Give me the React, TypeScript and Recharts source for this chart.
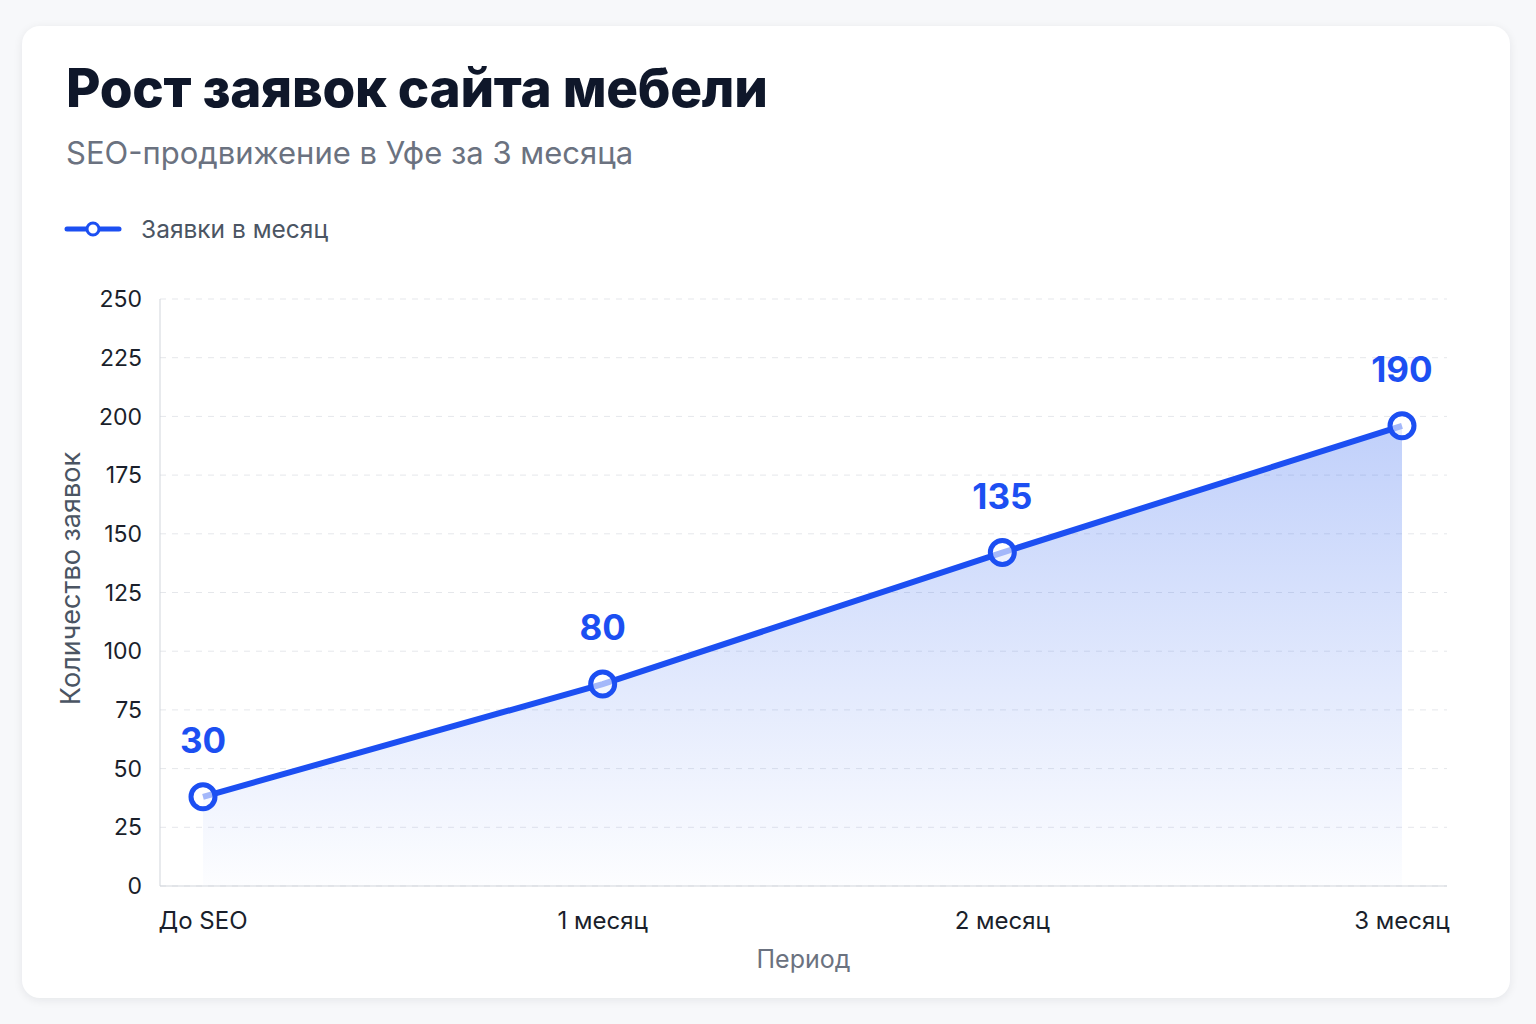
import React from "react";
import { Area, AreaChart, CartesianGrid, LabelList, XAxis, YAxis } from "recharts";

const periods = ["До SEO", "1 месяц", "2 месяц", "3 месяц"];
const requests = [38, 86, 142, 196];
const valueLabels = ["30", "80", "135", "190"];
const yTicks = [0, 25, 50, 75, 100, 125, 150, 175, 200, 225, 250];

const data = periods.map((period, i) => ({ period, requests: requests[i], label: valueLabels[i] }));

const BLUE = "#1c4ff2";
const FONT = "Inter, 'Noto Sans', sans-serif";

function PointLabel(props: any) {
  const { x, y, index } = props;
  return (
    <text x={x} y={y - 44} textAnchor="middle" fill={BLUE} fontSize={35} fontWeight={700} fontFamily={FONT}>
      {valueLabels[index]}
    </text>
  );
}

function YTitle(props: any) {
  const { viewBox } = props;
  const cx = viewBox.x + 10;
  const cy = viewBox.y + viewBox.height / 2 - 14;
  return (
    <text
      x={cx}
      y={cy}
      transform={`rotate(-90, ${cx}, ${cy})`}
      textAnchor="middle"
      dominantBaseline="central"
      fill="#4b5563"
      fontSize={27}
      fontFamily={FONT}
    >
      Количество заявок
    </text>
  );
}

export default function App() {
  return (
    <div style={{ position: "absolute", left: 0, top: 0, width: 1536, height: 1024, background: "#f7f8fa", fontFamily: FONT }}>
      <div
        style={{
          position: "absolute",
          left: 22,
          top: 26,
          width: 1488,
          height: 972,
          background: "#fff",
          borderRadius: 18,
          boxShadow: "0 2px 10px rgba(15,23,42,0.08)",
        }}
      />
      <div style={{ position: "absolute", left: 66, top: 56, fontSize: 53, fontWeight: 800, color: "#0f172a", letterSpacing: -0.3 }}>
        Рост заявок сайта мебели
      </div>
      <div style={{ position: "absolute", left: 66, top: 134, fontSize: 31, color: "#6b7280" }}>
        SEO-продвижение в Уфе за 3 месяца
      </div>
      <div style={{ position: "absolute", left: 64, top: 214, display: "flex", alignItems: "center" }}>
        <svg width={58} height={30}>
          <line x1={3} y1={15} x2={55} y2={15} stroke={BLUE} strokeWidth={5} strokeLinecap="round" />
          <circle cx={29} cy={15} r={6} fill="#fff" stroke={BLUE} strokeWidth={3} />
        </svg>
        <span style={{ marginLeft: 19, fontSize: 24.5, color: "#4b5563" }}>Заявки в месяц</span>
      </div>
      <div style={{ position: "absolute", left: 0, top: 0 }}>
        <AreaChart width={1536} height={1024} data={data} margin={{ top: 299, right: 89, bottom: 50, left: 60 }}>
          <defs>
            <linearGradient id="reqFill" x1="0" y1="0" x2="0" y2="1">
              <stop offset="0%" stopColor="#2f63f0" stopOpacity={0.5} />
              <stop offset="100%" stopColor="#2f63f0" stopOpacity={0.02} />
            </linearGradient>
          </defs>
          <CartesianGrid vertical={false} strokeDasharray="6 6" stroke="#e5e7eb" />
          <XAxis
            dataKey="period"
            padding={{ left: 43, right: 45 }}
            tickLine={false}
            axisLine={{ stroke: "#d1d5db" }}
            tick={{ fontSize: 24, fill: "#1a1f2b", fontFamily: FONT }}
            tickMargin={20}
            height={88}
            label={{ value: "Период", position: "insideBottom", offset: 6, fontSize: 25, fill: "#6b7280", fontFamily: FONT }}
          />
          <YAxis
            domain={[0, 250]}
            ticks={yTicks}
            width={100}
            tickLine={false}
            axisLine={{ stroke: "#d1d5db" }}
            tick={{ fontSize: 23, fill: "#1a1f2b", fontFamily: FONT }}
            tickMargin={12}
            label={<YTitle />}
          />
          <Area
            type="linear"
            dataKey="requests"
            stroke={BLUE}
            strokeWidth={6}
            fill="url(#reqFill)"
            dot={{ r: 12, fill: "#fff", stroke: BLUE, strokeWidth: 5 }}
            activeDot={false}
            isAnimationActive={false}
          >
            <LabelList dataKey="label" content={<PointLabel />} />
          </Area>
        </AreaChart>
      </div>
    </div>
  );
}
